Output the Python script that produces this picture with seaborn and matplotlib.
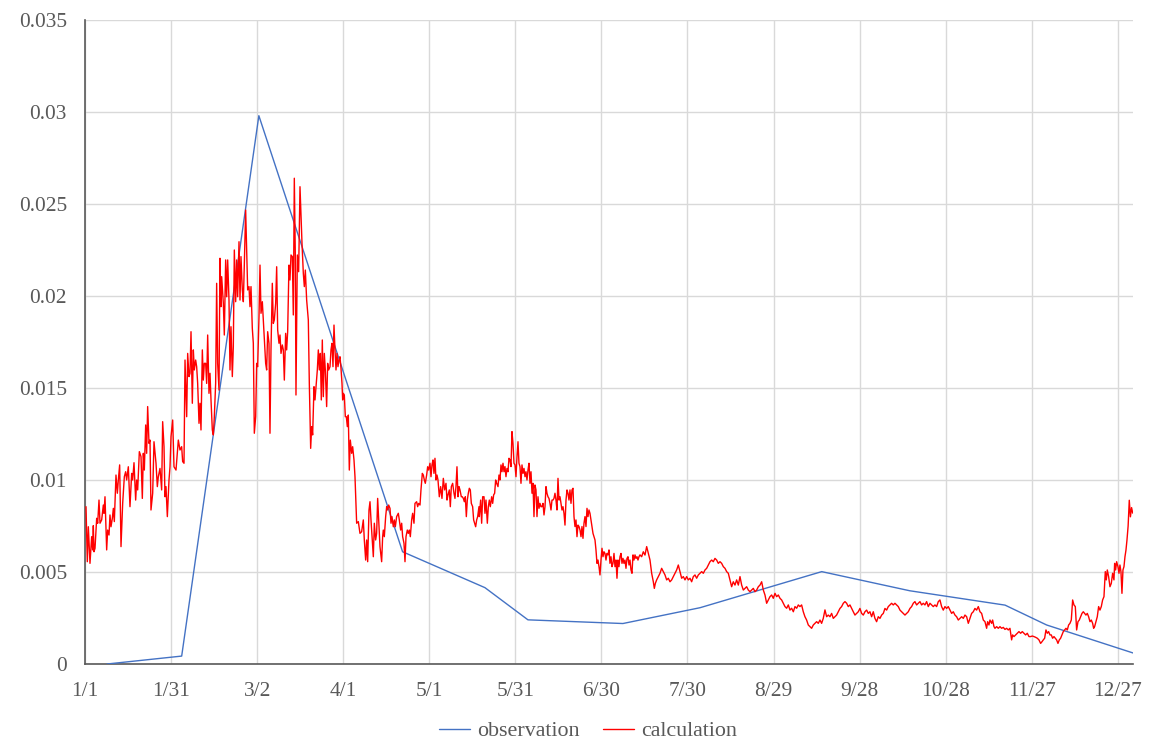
import matplotlib
matplotlib.use("Agg")
import matplotlib.pyplot as plt
from matplotlib.lines import Line2D
import pandas as pd
import seaborn as sns

# ---------------- data ----------------
tick_days = [0, 30, 60, 90, 120, 150, 180, 210, 240, 270, 300, 330, 360]
tick_labels = ["1/1", "1/31", "3/2", "4/1", "5/1", "5/31", "6/30", "7/30",
               "8/29", "9/28", "10/28", "11/27", "12/27"]
y_ticks = [0, 0.005, 0.01, 0.015, 0.02, 0.025, 0.03, 0.035]
y_labels = ["0", "0.005", "0.01", "0.015", "0.02", "0.025", "0.03", "0.035"]

obs_day = [7.7, 33.7, 60.6, 110.7, 139.4, 154.4, 187.5, 214.4, 256.8, 287.5, 320.7, 335.2, 365.3]
obs_val = [0.0, 0.00043, 0.0298, 0.0061, 0.00415, 0.0024, 0.0022, 0.00306, 0.00502, 0.00398,
           0.0032, 0.00212, 0.0006]

calc_day = [
    0.35, 0.81, 1.16, 1.74, 2.32, 2.67, 2.9, 3.14, 3.49, 4.07, 4.42, 4.88, 5.23, 5.81, 6.39, 6.62,
    6.97, 7.55, 7.9, 8.37, 8.71, 9.06, 9.53, 9.88, 10.22, 10.8, 11.27, 11.62, 12.08, 12.55, 13.13,
    13.71, 14.17, 14.52, 15.1, 15.68, 16.27, 16.61, 17.08, 17.66, 18.01, 18.36, 18.94, 19.52, 19.98,
    20.33, 20.68, 21.15, 21.49, 21.84, 22.31, 22.66, 23.0, 23.59, 24.05, 24.75, 25.21, 25.56, 26.14,
    26.72, 27.07, 27.54, 27.88, 28.23, 28.7, 29.28,
    29.63, 29.98, 30.56, 31.02, 31.72, 32.53, 33.11, 33.69, 34.04, 34.51, 34.86, 35.44, 35.79, 36.25,
    36.6, 36.95, 37.41, 37.76, 38.11, 38.57, 38.92, 39.27, 39.74, 40.08, 40.43, 40.9, 41.24, 41.59,
    42.06, 42.41, 42.76, 43.22, 43.57, 43.92, 44.38, 44.73, 45.08, 45.54, 45.89, 46.24, 46.71, 47.05,
    47.4, 47.64, 48.22, 48.56, 49.03, 49.38, 49.73, 50.19, 50.54, 50.89, 51.35, 51.7, 52.05, 52.52,
    52.86, 53.21, 53.68, 54.03, 54.37, 54.84, 55.19, 55.53, 56.0, 56.35, 56.7, 57.16, 57.51, 57.86,
    58.32, 58.67, 59.02, 59.49, 59.84, 60.18, 60.65, 61.0, 61.35, 61.81, 62.16, 62.51, 62.97, 63.32,
    63.67, 64.13, 64.48, 64.83, 65.29, 65.64, 65.99, 66.46, 66.81, 67.16, 67.62, 67.97, 68.32, 68.78,
    69.13, 69.48, 69.94, 70.29, 70.64, 71.1,
    71.45, 71.8, 72.27, 72.61, 72.96, 73.31, 73.54, 74.01, 74.47, 74.94, 75.29, 75.64, 76.1, 76.45,
    76.8, 77.26, 77.84, 78.19, 78.66, 79.01, 79.35, 79.82, 80.17, 80.52, 80.98, 81.33, 81.68, 82.03,
    82.37, 82.72, 83.07, 83.42, 83.77, 84.23, 84.58, 84.93, 85.4, 85.74, 86.09, 86.44, 86.79, 87.14,
    87.49, 87.83, 88.18, 88.53, 88.88, 89.23, 89.58, 89.81, 90.04, 90.39, 90.74, 91.09, 91.44, 91.78,
    92.13, 92.48,
    92.95, 93.3, 93.76, 94.11, 94.46, 94.69, 95.27, 95.85, 96.43, 97.01, 97.36, 97.83, 98.18, 98.53,
    98.99, 99.34, 99.69, 100.15, 100.5, 100.85, 101.31, 101.66, 102.01, 102.47, 102.82, 103.4,
    103.75, 103.98, 104.33, 104.8, 105.15, 105.5, 105.85, 106.31, 106.66, 107.0, 107.47, 107.82,
    108.17, 108.63, 109.21, 109.56, 110.03, 110.38, 110.72, 111.19, 111.54, 111.89, 112.35, 112.7,
    113.05, 113.4, 113.86, 114.21, 114.67, 115.02, 115.6, 115.95, 116.3, 116.77, 117.11, 117.58,
    117.93, 118.28, 118.62, 119.09, 119.44, 119.79, 120.25, 120.6, 120.95, 121.3, 121.64, 121.99,
    122.34, 122.69, 123.04, 123.5, 123.97, 124.43, 124.9, 125.36, 125.83, 126.18, 126.52, 126.99,
    127.34, 127.69, 128.15, 128.62, 128.96, 129.31, 129.66, 130.01, 130.36, 130.71, 131.17, 131.52,
    131.87, 132.22, 132.57, 132.92, 133.26, 133.61, 133.96, 134.31, 134.66, 135.12, 135.47, 135.82,
    136.17, 136.52, 136.87, 137.33,
    137.45, 137.91, 138.26, 138.61, 139.08, 139.42, 139.77, 140.24, 140.59, 140.93, 141.28, 141.75,
    142.1, 142.44, 142.79, 143.14, 143.49, 143.96, 144.3, 144.65, 145.0, 145.35, 145.7, 146.05,
    146.39, 146.74, 147.09, 147.44, 147.79, 148.14, 148.49, 148.83, 149.18, 149.53, 149.88, 150.23,
    150.58, 150.93, 151.27, 151.62, 151.97, 152.32, 152.67, 153.02, 153.37, 153.71, 154.06, 154.41,
    154.76, 155.11, 155.46, 155.81, 156.15, 156.5, 156.85, 157.2, 157.55, 157.9, 158.25, 158.59,
    158.94, 159.29, 159.64, 159.99, 160.34, 160.69, 161.03, 161.38, 161.73, 162.08, 162.43, 162.78,
    163.13, 163.47, 163.82, 164.17, 164.52, 164.87, 165.22, 165.57, 165.91, 166.26, 166.61, 166.96,
    167.31, 167.66, 168.01, 168.35, 168.7, 169.05, 169.4, 169.75, 170.1, 170.45, 170.79, 171.14,
    171.49, 171.84, 172.19, 172.54, 172.89, 173.23, 173.58, 173.93, 174.28, 174.63, 174.98, 175.33,
    175.67, 176.02, 176.37, 176.72, 177.07, 177.42, 177.77, 178.11, 178.46, 178.81, 179.16, 179.51,
    179.86, 180.21, 180.55, 180.9, 181.25, 181.6, 181.95, 182.3, 182.65, 182.99, 183.34, 183.69,
    184.04, 184.39, 184.74, 185.09, 185.43, 185.78, 186.13, 186.48, 186.83, 187.18, 187.53, 187.87,
    188.22, 188.57, 188.92, 189.27, 189.62, 189.97, 190.31, 190.66, 191.01, 191.36, 191.71, 192.06,
    192.41, 192.75, 193.1, 193.45,
    194.03, 194.61, 195.19, 195.78, 196.36, 196.94, 197.52, 198.1, 198.45, 198.8, 199.26, 199.84,
    200.42, 201.0, 201.59, 202.17, 202.75, 203.33, 203.91, 204.49, 205.07, 205.65, 206.23, 206.81,
    207.39, 207.98, 208.56, 209.14, 209.72, 210.3, 210.88, 211.46, 212.04, 212.62, 213.2, 213.78,
    214.36, 214.95, 215.53, 216.11, 216.69, 217.27, 217.85, 218.43, 219.01, 219.59, 220.17, 220.75,
    221.33, 221.92, 222.5, 223.08, 223.66, 224.24, 224.82, 225.4, 225.98, 226.56, 227.14, 227.73,
    228.31, 228.89, 229.47, 230.05, 230.63, 231.21, 231.79, 232.37, 232.95, 233.53, 234.12, 234.7,
    235.28, 235.86, 236.44, 237.02, 237.6, 238.18, 238.76, 239.34, 239.92, 240.51, 241.09, 241.67,
    242.25, 242.83, 243.41, 243.99, 244.57, 245.15, 245.73, 246.31, 246.9, 247.48, 248.06, 248.64,
    249.21, 249.79, 250.37, 250.95, 251.53, 252.12, 252.7, 253.28, 253.86, 254.44, 255.02, 255.6,
    256.18, 256.76, 257.34, 257.93, 258.51, 259.09, 259.67, 260.25, 260.83, 261.41, 261.99, 262.57,
    263.15, 263.73, 264.32, 264.9, 265.48, 266.06, 266.64, 267.22, 267.8, 268.38, 268.96, 269.54,
    270.12, 270.71, 271.29, 271.87, 272.45, 273.03, 273.61, 274.19, 274.77, 275.35, 275.93, 276.51,
    277.1, 277.68, 278.26, 278.84, 279.42, 280.0, 280.58, 281.16, 281.74, 282.32, 282.9, 283.49,
    284.07, 284.65, 285.23, 285.81, 286.39, 286.97, 287.55, 288.13, 288.71, 289.29, 289.88, 290.46,
    291.04, 291.62, 292.2, 292.78, 293.36, 293.94, 294.52, 295.1, 295.68, 296.27, 296.85, 297.43,
    298.01, 298.59, 299.17, 299.75, 300.33, 300.91, 301.49, 302.08, 302.66, 303.24, 303.82, 304.4,
    304.99, 305.57, 306.15, 306.73, 307.31, 307.89, 308.47, 309.05, 309.63, 310.21, 310.79, 311.38,
    311.96, 312.54, 313.12, 313.7, 314.28, 314.63, 315.09, 315.44, 316.02, 316.37, 316.84, 317.18,
    317.77, 318.35, 318.93, 319.51, 320.09, 320.67, 321.25, 321.83, 322.41, 322.99, 323.34, 323.81,
    324.39, 324.97, 325.55, 326.13, 326.71, 327.29, 327.87, 328.45, 329.04, 329.62, 330.2, 330.78,
    331.36, 331.94, 332.52, 333.1, 333.57, 334.03, 334.5, 334.96, 335.43, 335.89, 336.36, 336.82,
    337.28, 337.75, 338.21, 338.68, 339.14, 339.61, 340.07, 340.54, 341.0, 341.47, 341.93, 342.4,
    342.86, 343.33, 343.79, 344.26, 344.72, 345.19, 345.65, 346.12, 346.58, 347.04, 347.51, 347.97,
    348.44, 348.9, 349.37, 349.83, 350.3, 350.76, 351.23, 351.58, 351.92, 352.39, 352.85, 353.32,
    353.78, 354.25, 354.71, 355.18, 355.64, 355.99, 356.34, 356.8, 357.27, 357.73, 358.2, 358.66,
    358.9, 359.24, 359.59, 360.06, 360.41, 360.75, 361.1, 361.45, 361.8, 362.15, 362.5, 362.85,
    363.2, 363.6, 364.0, 364.4, 364.8, 365.2,
]

calc_val = [
    0.00855, 0.00556, 0.00746, 0.00547, 0.00692, 0.0062, 0.00752, 0.0061, 0.00629, 0.00792, 0.00765,
    0.00891, 0.00765, 0.00783, 0.00864, 0.00819, 0.00909, 0.0062, 0.00728, 0.00701, 0.0081, 0.00746,
    0.00792, 0.00846, 0.00774, 0.01027, 0.00928, 0.01, 0.01082, 0.00638, 0.00873, 0.01018, 0.01045,
    0.01, 0.01072, 0.00855, 0.01036, 0.01, 0.01094, 0.00891, 0.01, 0.00946, 0.01154, 0.01127, 0.009,
    0.01145, 0.01054, 0.01299, 0.01145, 0.01399, 0.01199, 0.01217, 0.00837, 0.00928, 0.01208,
    0.01091, 0.00964, 0.01018, 0.01063, 0.00946, 0.01317, 0.01181, 0.00909, 0.00964, 0.00801, 0.01,
    0.01072, 0.01236, 0.01326, 0.01072, 0.01054, 0.01217, 0.01163, 0.01181, 0.011, 0.01091, 0.01652,
    0.01344, 0.01688, 0.01562, 0.0158, 0.01806, 0.01417, 0.01707, 0.01598, 0.01652, 0.01616,
    0.01525, 0.01308, 0.01417, 0.01272, 0.01707, 0.01543, 0.01634, 0.01634, 0.01525, 0.01788,
    0.01471, 0.0158, 0.01435, 0.01272, 0.01245, 0.01344, 0.01525, 0.02069, 0.01634, 0.01489,
    0.02205, 0.01942, 0.02105, 0.0196, 0.01788, 0.02196, 0.01996, 0.02196, 0.01978, 0.01598,
    0.01833, 0.01562, 0.01725, 0.0225, 0.01969, 0.02196, 0.01996, 0.02295, 0.01978, 0.02214,
    0.02033, 0.01969, 0.02168, 0.02467, 0.0225, 0.02033, 0.02051, 0.01942, 0.02051, 0.01824,
    0.01743, 0.01254, 0.01344, 0.01634, 0.01616, 0.01888, 0.02168, 0.01906, 0.01969, 0.0187,
    0.01761, 0.01634, 0.01598, 0.01806, 0.01743, 0.01254, 0.01707, 0.02069, 0.01851, 0.0187, 0.0196,
    0.02159, 0.01815, 0.01743, 0.01788, 0.01688, 0.01734, 0.01707, 0.01543, 0.01797, 0.01707,
    0.01806, 0.02168,
    0.02087, 0.02223, 0.02214, 0.01897, 0.0264, 0.02214, 0.01462, 0.02223, 0.02132, 0.02594,
    0.02431, 0.02286, 0.02123, 0.02051, 0.02141, 0.01978, 0.0187, 0.01525, 0.01172, 0.0129,
    0.01245, 0.01507, 0.01435, 0.01507, 0.01598, 0.01707, 0.01598, 0.01688, 0.01435, 0.01761,
    0.01453, 0.01688, 0.01598, 0.01399, 0.01634, 0.01598, 0.01616, 0.01707, 0.01743, 0.01616,
    0.01842, 0.01707, 0.01598, 0.01688, 0.01616, 0.01652, 0.0167, 0.01607, 0.01525, 0.01435,
    0.01471, 0.01462, 0.01344, 0.01344, 0.0129, 0.01353, 0.01054, 0.01217,
    0.01145, 0.01181, 0.01109, 0.01018, 0.00855, 0.00765, 0.00774, 0.0071, 0.00719, 0.00783,
    0.00674, 0.00565, 0.00674, 0.00556, 0.00837, 0.00882, 0.00783, 0.00674, 0.00583, 0.00765,
    0.00674, 0.0071, 0.009, 0.00746, 0.00638, 0.00556, 0.00692, 0.00728, 0.00692, 0.00801, 0.00855,
    0.00837, 0.00864, 0.00846, 0.00765, 0.00801, 0.00746, 0.00783, 0.00746, 0.00801, 0.00819,
    0.00783, 0.00728, 0.00765, 0.00692, 0.00656, 0.00556, 0.00692, 0.00728, 0.0071, 0.00728,
    0.00692, 0.00783, 0.00819, 0.00765, 0.00873, 0.00882, 0.00855, 0.00873, 0.00864, 0.00946,
    0.01036, 0.01027, 0.01, 0.00982, 0.01027, 0.01072, 0.01054, 0.01091, 0.01018, 0.01082, 0.01109,
    0.01036, 0.01118, 0.01, 0.01027, 0.01, 0.00909, 0.00964, 0.009, 0.01009, 0.00946, 0.00982,
    0.00891, 0.00918, 0.00946, 0.00855, 0.00964, 0.00982, 0.00928, 0.009, 0.00964, 0.01072, 0.00909,
    0.00964, 0.00946, 0.00909, 0.00909, 0.009, 0.00882, 0.00909, 0.00801, 0.00891, 0.00928,
    0.00955, 0.00946, 0.00873, 0.00855, 0.00783, 0.00765, 0.00746, 0.00783, 0.00801, 0.00855,
    0.00801, 0.00891, 0.00765, 0.00909, 0.00909, 0.00819, 0.00891, 0.00765, 0.00855, 0.00891,
    0.00855, 0.00909, 0.00873, 0.00919, 0.00928, 0.01, 0.00982, 0.00964, 0.01027, 0.01, 0.01082,
    0.01045, 0.01091, 0.01045, 0.01073, 0.01018, 0.01063, 0.01045, 0.01118, 0.01109, 0.01073,
    0.01263, 0.012, 0.01091, 0.01082, 0.01018, 0.01127, 0.01208, 0.01091, 0.01073, 0.00982,
    0.01082, 0.01036, 0.01063, 0.01018, 0.01045, 0.01, 0.01054, 0.01091, 0.00982, 0.01045, 0.00928,
    0.00982, 0.00801, 0.00973, 0.00946, 0.00801, 0.00909, 0.00846, 0.00873, 0.00855, 0.00855,
    0.00873, 0.0081, 0.00855, 0.00964, 0.00928, 0.00909, 0.009, 0.00873, 0.00837, 0.00891, 0.00891,
    0.009, 0.00928, 0.00891, 0.00837, 0.01009, 0.00891, 0.00909, 0.00873, 0.00837, 0.00855, 0.00819,
    0.00755, 0.00891, 0.00946, 0.00928, 0.00891, 0.00946, 0.00873, 0.00946, 0.00955, 0.00801,
    0.00747, 0.00783, 0.00692, 0.00755, 0.00747, 0.00728, 0.00692, 0.00747, 0.00683, 0.00765,
    0.00801, 0.00747, 0.00846, 0.00801, 0.00837, 0.00819, 0.00783, 0.00747, 0.0071, 0.00692,
    0.00674, 0.0062, 0.00547, 0.00565, 0.00529, 0.00484, 0.00565, 0.00629, 0.00583, 0.0061,
    0.00601, 0.00565, 0.00601, 0.00593, 0.0062, 0.00547, 0.00583, 0.00529, 0.00547, 0.00601,
    0.00529, 0.00565, 0.00466, 0.00565, 0.00529, 0.00583, 0.00601, 0.00547, 0.00574, 0.00547,
    0.00565, 0.0052, 0.00574, 0.00583, 0.00538, 0.00565, 0.00511, 0.00493, 0.00593, 0.00565,
    0.00593, 0.00574, 0.00583, 0.00565, 0.00583, 0.00593,
    0.00583, 0.0061, 0.00592, 0.00638, 0.00601, 0.00565, 0.00493, 0.00447, 0.00411, 0.00438,
    0.00457, 0.00475, 0.00493, 0.0052, 0.00502, 0.00484, 0.00457, 0.00466, 0.00447, 0.00457,
    0.00475, 0.00493, 0.00511, 0.00538, 0.00502, 0.00466, 0.00475, 0.00457, 0.00475, 0.00457,
    0.00466, 0.00447, 0.00475, 0.00484, 0.00466, 0.00484, 0.00493, 0.00502, 0.00493, 0.00511,
    0.0052, 0.00538, 0.00556, 0.00565, 0.00556, 0.00574, 0.00565, 0.00547, 0.00556, 0.00547,
    0.00529, 0.0052, 0.00502, 0.00493, 0.00457, 0.0042, 0.00447, 0.00429, 0.00457, 0.00429,
    0.00475, 0.00429, 0.00402, 0.00411, 0.0042, 0.00402, 0.00393, 0.00402, 0.00411, 0.00393,
    0.00402, 0.0042, 0.00429, 0.00447, 0.00402, 0.00375, 0.0033, 0.00348, 0.00366, 0.00375,
    0.00357, 0.00384, 0.00366, 0.00375, 0.00357, 0.00348, 0.0033, 0.00312, 0.00303, 0.00321,
    0.00293, 0.00303, 0.00284, 0.00312, 0.00303, 0.00321,
    0.00312, 0.00321, 0.00284, 0.00257, 0.00239, 0.00212, 0.00203, 0.00194, 0.00212, 0.00221,
    0.0023, 0.00221, 0.00239, 0.00221, 0.00248, 0.00294, 0.00257, 0.00266, 0.00257, 0.00275,
    0.00248, 0.00257, 0.00266, 0.00284, 0.00302, 0.00312, 0.0033, 0.00339, 0.0033, 0.00312,
    0.00321, 0.00302, 0.00284, 0.00266, 0.00275, 0.00284, 0.00302, 0.00275, 0.00266, 0.00284,
    0.00293, 0.00275, 0.00284, 0.00257, 0.00284, 0.00248, 0.0023, 0.00257, 0.00248, 0.00266,
    0.00275, 0.00302, 0.00293, 0.00312, 0.00321, 0.0033, 0.00321, 0.0033, 0.00321, 0.00312,
    0.00293, 0.00284, 0.00275, 0.00266, 0.00275, 0.00284, 0.00302, 0.00312, 0.0033, 0.00339,
    0.00321, 0.0033, 0.00339, 0.00321, 0.0033, 0.00321, 0.00339, 0.00312, 0.0033, 0.00321, 0.00312,
    0.00321, 0.00312, 0.00339, 0.00348, 0.00312, 0.00293, 0.00312, 0.00302, 0.00312, 0.00293,
    0.00275, 0.00284, 0.00266, 0.00257, 0.00239,
    0.00248, 0.00257, 0.00248, 0.00266, 0.00257, 0.00221, 0.00248, 0.00275, 0.00284, 0.00302,
    0.00293, 0.00312, 0.00284, 0.00275, 0.00239, 0.0023, 0.00194, 0.0023, 0.00212, 0.00239,
    0.00221, 0.00239, 0.00203, 0.00194, 0.00203, 0.00194, 0.00203, 0.00194, 0.00199, 0.00188,
    0.00194, 0.00185, 0.00194, 0.00131, 0.00158, 0.00149, 0.00158, 0.00167, 0.00176, 0.00167,
    0.00176, 0.00167, 0.00158, 0.00167, 0.00149, 0.00149, 0.00152, 0.00149, 0.00145, 0.0014,
    0.00131, 0.00112, 0.00121, 0.00131, 0.0014, 0.00185, 0.00167, 0.00176, 0.00158, 0.00158,
    0.0014, 0.00149, 0.0014, 0.00131, 0.00112, 0.00131, 0.0014, 0.00158, 0.00176, 0.00185,
    0.00194, 0.00185, 0.00212, 0.00221, 0.00239, 0.00348, 0.00321, 0.00312, 0.00185, 0.0023,
    0.00239, 0.00257, 0.00275, 0.00284, 0.00275, 0.00266, 0.00275, 0.00257, 0.0023, 0.00239,
    0.00221, 0.00194, 0.00203, 0.0023, 0.00257, 0.00312, 0.00293, 0.00312, 0.00348, 0.00366,
    0.00502, 0.00457, 0.00511, 0.00475, 0.0042, 0.00438, 0.00493, 0.00457, 0.00547, 0.00511,
    0.00556, 0.00529, 0.00493, 0.00538, 0.00502, 0.00384, 0.00511, 0.00529, 0.00583, 0.00619,
    0.00674, 0.0075, 0.0089, 0.008, 0.0085, 0.0082,
]

# ---------------- styling ----------------
sns.set_theme(style="white")
plt.rcParams["font.family"] = ["Liberation Serif", "DejaVu Serif"]
TXT = "#595959"
GRID = "#d9d9d9"
BLUE = "#4472C4"
RED = "#FF0000"

fig = plt.figure(figsize=(11.49, 7.41), dpi=100)
ax = fig.add_axes([85 / 1149, 77 / 741, 1048 / 1149, 644 / 741])

df = pd.concat([
    pd.DataFrame({"day": obs_day, "value": obs_val, "series": "observation"}),
    pd.DataFrame({"day": calc_day, "value": calc_val, "series": "calculation"}),
], ignore_index=True)

sns.lineplot(data=df[df.series == "observation"], x="day", y="value", color=BLUE,
             linewidth=1.0, estimator=None, sort=False, ax=ax, legend=False, zorder=3)
sns.lineplot(data=df[df.series == "calculation"], x="day", y="value", color=RED,
             linewidth=1.0, estimator=None, sort=False, ax=ax, legend=False, zorder=4)

ax.set_xlim(0, 365.3)
ax.set_ylim(0, 0.035)
ax.set_xticks(tick_days)
ax.set_xticklabels(tick_labels)
ax.set_yticks(y_ticks)
ax.set_yticklabels(y_labels)
ax.set_xlabel("")
ax.set_ylabel("")
ax.grid(True, color=GRID, linewidth=1.0)
ax.set_axisbelow(True)
ax.tick_params(axis="both", length=0, labelsize=15.4, colors=TXT)
ax.tick_params(axis="y", pad=13)
ax.tick_params(axis="x", pad=13)
for s in ["top", "right"]:
    ax.spines[s].set_visible(False)
for s in ["left", "bottom"]:
    ax.spines[s].set_color(TXT)
    ax.spines[s].set_linewidth(1.2)

handles = [Line2D([0], [0], color=BLUE, lw=1.0), Line2D([0], [0], color=RED, lw=1.0)]
leg = fig.legend(handles, ["observation", "calculation"], loc="center",
                 bbox_to_anchor=(588 / 1149, 10 / 741), ncol=2, frameon=False, fontsize=15.8,
                 handlelength=1.4, handletextpad=0.3, columnspacing=1.1)
for t in leg.get_texts():
    t.set_color(TXT)

fig.savefig("out.png", dpi=100)
